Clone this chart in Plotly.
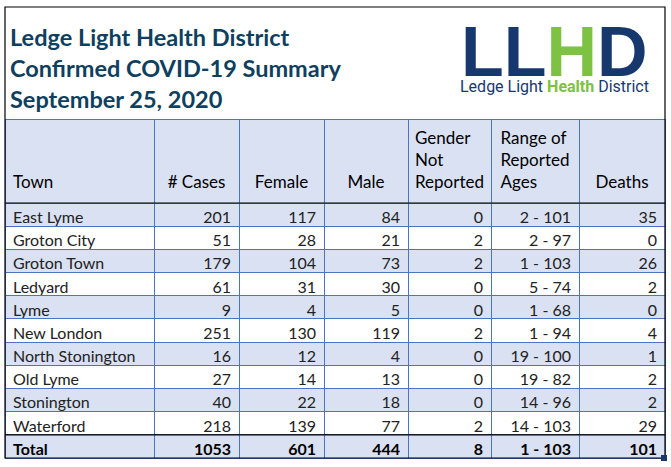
import plotly.graph_objects as go

# ---------------- data ----------------
towns = ["East Lyme", "Groton City", "Groton Town", "Ledyard", "Lyme", "New London",
         "North Stonington", "Old Lyme", "Stonington", "Waterford"]
cases = [201, 51, 179, 61, 9, 251, 16, 27, 40, 218]
female = [117, 28, 104, 31, 4, 130, 12, 14, 22, 139]
male = [84, 21, 73, 30, 5, 119, 4, 13, 18, 77]
gender_not_reported = [0, 2, 2, 0, 0, 2, 0, 0, 0, 2]
age_ranges = ["2 - 101", "2 - 97", "1 - 103", "5 - 74", "1 - 68", "1 - 94",
              "19 - 100", "19 - 82", "14 - 96", "14 - 103"]
deaths = [35, 0, 26, 2, 0, 4, 1, 2, 2, 29]
total_row = ["Total", 1053, 601, 444, 8, "1 - 103", 101]

headers = ["Town", "# Cases", "Female", "Male", "Gender<br>Not<br>Reported",
           "Range of<br>Reported<br>Ages", "Deaths"]
title_lines = ["Ledge Light Health District", "Confirmed COVID-19 Summary", "September 25, 2020"]

# ---------------- layout constants ----------------
W, H = 671, 467
BLUE_FILL = "#D9E1F2"
GRID = "#4A74C4"
TITLE_C = "#0F3F5E"
NAVY = "#17386F"
GREEN = "#7DC242"

x_left, x_right = 5, 665
y_table_top, y_table_bot = 119, 458
header_h = 84
n_rows = len(towns) + 1
row_h = (y_table_bot - y_table_top - header_h) / n_rows
y_total_top = y_table_bot - row_h
col_widths = [149, 85, 85, 84, 83, 88, 86]
aligns = ["left"] + ["right"] * 6

def px(x):
    return x / W

def py(y):
    return 1 - y / H

NB = "\u00a0"

# header text pushed to bottom of header cell
def pad_header(h):
    lines = h.count("<br>") + 1
    return (NB + "<br>") * (3 - lines) + h

header_vals = [pad_header(h) for h in headers]

columns = [towns, cases, female, male, gender_not_reported, age_ranges, deaths]
cell_vals = [[str(v) for v in col] for col in columns]

row_colors = [BLUE_FILL if i % 2 == 0 else "white" for i in range(len(towns))]
fill = [row_colors for _ in columns]

fig = go.Figure()
# main table: header + town rows
fig.add_trace(go.Table(
    domain=dict(x=[px(x_left), px(x_right)], y=[py(y_total_top + 0.5), py(y_table_top)]),
    columnwidth=col_widths,
    header=dict(
        values=header_vals,
        fill_color=BLUE_FILL,
        line=dict(color=GRID, width=1),
        align=["left"] + ["center"] * 6,
        font=dict(family="Lato", size=17, color="black"),
        height=header_h,
    ),
    cells=dict(
        values=cell_vals,
        fill_color=fill,
        line=dict(color=GRID, width=1),
        align=aligns,
        font=dict(family="Lato", size=16, color="#222222"),
        height=row_h,
    ),
))
# total row (bold)
fig.add_trace(go.Table(
    domain=dict(x=[px(x_left), px(x_right)], y=[py(y_table_bot + 2), py(y_total_top)]),
    columnwidth=col_widths,
    header=dict(
        values=[str(v) for v in total_row],
        fill_color=BLUE_FILL,
        line=dict(color=GRID, width=1),
        align=aligns,
        font=dict(family="Lato", size=16, color="black", weight="bold"),
        height=row_h,
    ),
    cells=dict(values=[]),
))

shapes = [
    # outer frame
    dict(type="rect", xref="paper", yref="paper", x0=px(x_left), x1=px(x_right),
         y0=py(y_table_bot), y1=py(7), line=dict(color="black", width=1.2)),
    # header bottom
    dict(type="line", xref="paper", yref="paper", x0=px(x_left), x1=px(x_right),
         y0=py(y_table_top + header_h), y1=py(y_table_top + header_h),
         line=dict(color="black", width=1.2)),
    # total top
    dict(type="line", xref="paper", yref="paper", x0=px(x_left), x1=px(x_right),
         y0=py(y_total_top), y1=py(y_total_top),
         line=dict(color="black", width=1.2)),
    # selection handle
    dict(type="rect", xref="paper", yref="paper", x0=px(661), x1=px(667),
         y0=py(461), y1=py(455), fillcolor=NAVY, line=dict(width=0)),
]

annotations = []
for i, t in enumerate(title_lines):
    annotations.append(dict(
        text="<b>" + t + "</b>", xref="paper", yref="paper",
        x=px(8), y=py(37 + i * 31), xanchor="left", yanchor="middle",
        showarrow=False, font=dict(family="Lato", size=23.5, color=TITLE_C)))

annotations.append(dict(
    text=f"<span style='color:{NAVY}'>LL</span><span style='color:{GREEN}'>H</span>"
         f"<span style='color:{NAVY}'>D</span>",
    xref="paper", yref="paper", x=px(554), y=py(52), xanchor="center", yanchor="middle",
    showarrow=False, font=dict(family="Liberation Sans", size=70, weight="bold")))
annotations.append(dict(
    text=f"<span style='color:{NAVY}'>Ledge Light </span><b><span style='color:{GREEN}'>Health</span></b>"
         f"<span style='color:{NAVY}'> District</span>",
    xref="paper", yref="paper", x=px(554), y=py(87), xanchor="center", yanchor="middle",
    showarrow=False, font=dict(family="Roboto", size=16)))

fig.update_layout(
    width=W, height=H, margin=dict(l=0, r=0, t=0, b=0),
    paper_bgcolor="white", plot_bgcolor="white",
    shapes=shapes, annotations=annotations,
)

fig.write_html("out.html", config={"displayModeBar": False},
               post_script="document.body.style.margin='0';")
